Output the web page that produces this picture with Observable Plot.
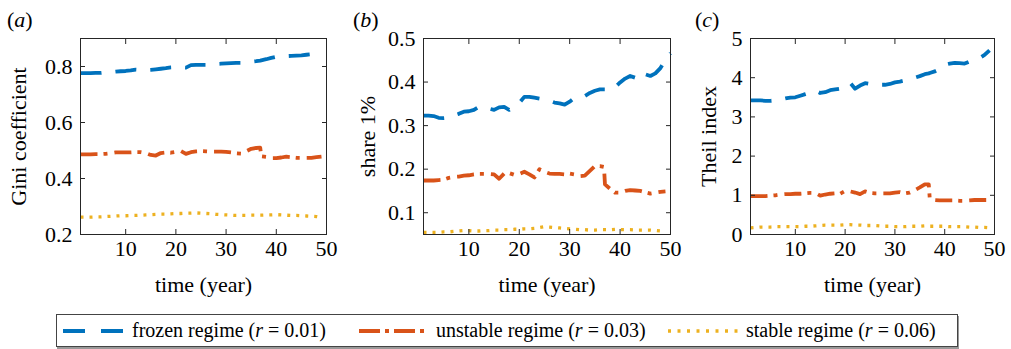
<!DOCTYPE html>
<html>
<head>
<meta charset="utf-8">
<script src="https://cdn.jsdelivr.net/npm/d3@7"></script>
<script src="https://cdn.jsdelivr.net/npm/@observablehq/plot@0.6"></script>
<style>
  body { margin: 0; background: #fff; }
  #wrap { position: relative; width: 1011px; height: 349px; overflow: hidden; background: #fff;
          font-family: "Liberation Serif", "Times New Roman", serif; color: #000; }
  .panel { position: absolute; top: 0; }
  .tag { position: absolute; top: 9px; font-size: 22px; line-height: 22px; white-space: nowrap; }
  #legend { position: absolute; left: 56px; top: 314px; width: 902px; height: 33px; box-sizing: border-box;
            border: 1px solid #444; box-shadow: 1px 2px 0 #999; background: #fff; }
  .item { position: absolute; top: 0; height: 31px; display: flex; align-items: center; font-size: 20px; white-space: nowrap; }
  .item svg { margin-right: 8px; }
</style>
</head>
<body>
<div id="wrap">
  <div class="tag" style="left:7px">(<i>a</i>)</div>
  <div class="tag" style="left:353px">(<i>b</i>)</div>
  <div class="tag" style="left:695px">(<i>c</i>)</div>
  <div id="legend"></div>
</div>
<script>
// ---- data ----
const time = [1,2,3,4,5,6,7,8,9,10,11,12,13,14,15,16,17,18,19,20,21,22,23,24,25,26,27,28,29,30,31,32,33,34,35,36,36.8,37,38,39,40,41,42,43,44,45,46,47,48,49,50];
const xTicks = [10,20,30,40,50];

const giniFrozen   = [.776,.776,.776,.777,.777,.779,.780,.782,.783,.784,.786,.789,.788,.787,.788,.790,.792,.794,.797,.798,.797,.796,.805,.806,.806,.806,.807,.809,.810,.811,.812,.813,.813,.815,.817,.819,.821,.822,.826,.831,.835,.837,.837,.838,.839,.840,.842,.844,.846,.849,null];
const giniUnstable = [.486,.486,.486,.487,.487,.488,.490,.493,.493,.493,.493,.494,.494,.491,.484,.482,.491,.493,.492,.495,.498,.488,.494,.497,.498,.497,.496,.496,.496,.495,.493,.490,.489,.497,.506,.509,.510,.479,.477,.473,.473,.475,.478,.476,.474,.474,.474,.474,.476,.478,null];
const giniStable   = [.262,.262,.262,.263,.263,.264,.265,.266,.267,.267,.268,.268,.269,.270,.271,.272,.273,.273,.274,.275,.275,.276,.276,.277,.276,.275,.274,.272,.271,.270,.269,.268,.268,.268,.269,.269,.269,.269,.270,.270,.271,.270,.269,.268,.268,.267,.266,.265,.264,.261,null];

const shareFrozen   = [.323,.323,.322,.318,.317,.318,.323,.327,.332,.333,.336,.343,.343,.339,.336,.342,.343,.336,.340,.352,.366,.366,.364,.362,.361,.357,.353,.351,.348,.355,.364,.366,.368,.375,.380,.383,.383,.383,.382,.388,.399,.408,.414,.410,.405,.418,.414,.420,.432,.452,.466];
const shareUnstable = [.174,.174,.174,.175,.176,.180,.182,.183,.185,.186,.188,.189,.189,.189,.188,.178,.190,.191,.187,.189,.194,.188,.181,.200,.194,.190,.189,.189,.188,.190,.188,.184,.185,.196,.207,.207,.205,.165,.155,.146,.146,.150,.152,.151,.150,.147,.144,.146,.148,.149,null];
const shareStable   = [.055,.055,.055,.055,.056,.056,.057,.058,.059,.059,.058,.058,.059,.059,.060,.060,.061,.061,.062,.062,.063,.063,.064,.066,.068,.067,.066,.065,.064,.063,.062,.061,.061,.060,.060,.061,.061,.061,.061,.062,.061,.061,.061,.060,.060,.060,.060,.059,.058,.057,null];

const theilFrozen   = [3.42,3.42,3.42,3.41,3.41,3.42,3.44,3.47,3.49,3.50,3.54,3.58,3.62,3.67,3.61,3.63,3.68,3.70,3.72,3.79,3.87,3.72,3.80,3.86,3.84,3.82,3.82,3.82,3.84,3.88,3.90,3.93,3.96,4.00,4.04,4.09,4.11,4.12,4.16,4.22,4.33,4.36,4.38,4.37,4.36,4.41,4.46,4.50,4.58,4.70,null];
const theilUnstable = [0.98,0.98,0.98,0.98,0.99,1.00,1.02,1.03,1.03,1.04,1.04,1.05,1.06,1.06,0.99,1.02,1.04,1.05,1.04,1.11,1.10,1.07,1.03,1.10,1.06,1.05,1.05,1.05,1.05,1.07,1.08,1.05,1.07,1.13,1.20,1.28,1.28,0.91,0.88,0.87,0.87,0.87,0.87,0.86,0.86,0.87,0.88,0.88,0.88,0.88,null];
const theilStable   = [0.17,0.18,0.19,0.19,0.19,0.20,0.20,0.20,0.20,0.20,0.20,0.21,0.21,0.22,0.23,0.24,0.24,0.24,0.24,0.25,0.25,0.24,0.24,0.23,0.23,0.23,0.22,0.21,0.21,0.20,0.20,0.20,0.21,0.21,0.21,0.22,0.21,0.21,0.21,0.21,0.21,0.20,0.20,0.20,0.20,0.19,0.19,0.18,0.18,0.17,null];

const regimes = ["frozen regime", "unstable regime", "stable regime"];
const rates = ["0.01", "0.03", "0.06"];
const xLabel = "time (year)";

// ---- styles ----
const colors = ["#0072BD", "#D95319", "#EDB120"];
const dashes = ["21,14", "17,6,4,7", "3,6"];
const widths = [3.8, 3.8, 3.3];
const FONT = '"Liberation Serif", "Times New Roman", serif';
const FS = 22;

function panel({left, plotWidth, yDomain, yTicks, fmt, label, labelDx, series}) {
  const marks = [];
  series.forEach((vals, k) => {
    const rows = time.map((t, i) => ({t, v: vals[i]})).filter(d => d.v != null);
    marks.push(Plot.line(rows, {x: "t", y: "v", stroke: colors[k], strokeWidth: widths[k],
      strokeDasharray: dashes[k], strokeLinecap: "butt", strokeLinejoin: "round"}));
  });
  marks.push(
    Plot.frame({stroke: "#262626", strokeWidth: 1}),
    Plot.axisX({anchor: "bottom", ticks: xTicks, tickSize: -5, tickPadding: 11, stroke: "#262626",
      fontSize: FS, fontFamily: FONT, fill: "#000", label: null}),
    Plot.axisX({anchor: "top", ticks: xTicks, tickSize: -5, stroke: "#262626", tickFormat: () => "", label: null}),
    Plot.axisY({anchor: "left", ticks: yTicks, tickSize: -5, tickPadding: 13, stroke: "#262626",
      fontSize: FS, fontFamily: FONT, fill: "#000", tickFormat: d3.format(fmt), label: null}),
    Plot.axisY({anchor: "right", ticks: yTicks, tickSize: -5, stroke: "#262626", tickFormat: () => "", label: null}),
    Plot.text([xLabel], {text: d => d, frameAnchor: "bottom", dy: 50, fontSize: FS, fontFamily: FONT,
      fill: "#000", textAnchor: "middle", lineAnchor: "middle"}),
    Plot.text([label], {text: d => d, frameAnchor: "left", dx: labelDx, rotate: -90, fontSize: FS, fontFamily: FONT,
      fill: "#000", textAnchor: "middle", lineAnchor: "middle"})
  );
  const svg = Plot.plot({
    width: 80 + plotWidth + 6, height: 300,
    marginLeft: 80, marginRight: 6, marginTop: 38, marginBottom: 66,
    x: {domain: [1, 50]},
    y: {domain: yDomain},
    style: {fontFamily: FONT, fontSize: FS + "px", background: "transparent", overflow: "visible", color: "#000"},
    marks
  });
  svg.classList.add("panel");
  svg.style.left = left + "px";
  document.getElementById("wrap").appendChild(svg);
}

panel({left: 0, plotWidth: 246, yDomain: [0.2, 0.9], yTicks: [0.2,0.4,0.6,0.8], fmt: ".1f",
  label: "Gini coefficient", labelDx: -62, series: [giniFrozen, giniUnstable, giniStable]});
panel({left: 343, plotWidth: 247, yDomain: [0.05, 0.5], yTicks: [0.1,0.2,0.3,0.4,0.5], fmt: ".1f",
  label: "share 1%", labelDx: -56, series: [shareFrozen, shareUnstable, shareStable]});
panel({left: 670, plotWidth: 244, yDomain: [0, 5], yTicks: [0,1,2,3,4,5], fmt: "d",
  label: "Theil index", labelDx: -42, series: [theilFrozen, theilUnstable, theilStable]});

// ---- legend ----
const legend = document.getElementById("legend");
const itemLeft = [6, 302, 611];
const sampleW = [61, 69, 70];
regimes.forEach((name, k) => {
  const div = document.createElement("div");
  div.className = "item";
  div.style.left = itemLeft[k] + "px";
  const w = sampleW[k];
  div.innerHTML = `<svg width="${w}" height="10"><line x1="0" y1="5" x2="${w}" y2="5" stroke="${colors[k]}" stroke-width="${widths[k]}" stroke-dasharray="${k===1 ? '21,5,4,5' : k===0 ? '22,16' : '3,6.5'}"/></svg><span>${name} (<i>r</i> = ${rates[k]})</span>`;
  legend.appendChild(div);
});
</script>
</body>
</html>
